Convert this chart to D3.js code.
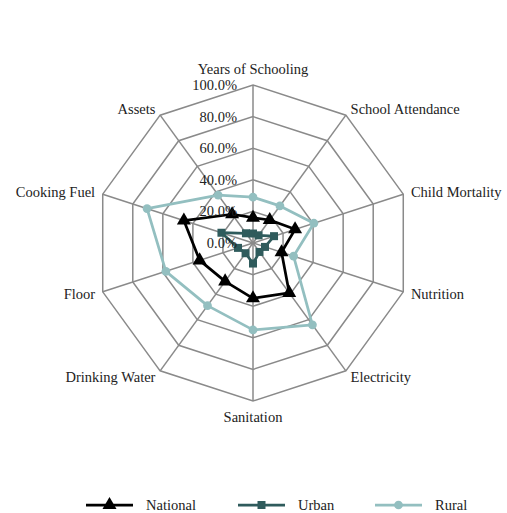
<!DOCTYPE html>
<html>
<head>
<meta charset="utf-8">
<script src="https://cdn.jsdelivr.net/npm/d3@7"></script>
<style>
  body { margin: 0; background: #fff; }
</style>
</head>
<body>
<svg width="507" height="513"></svg>
<script>
const width = 507;
const height = 513;
const svg = d3.select('svg');
const fontFam = "'Liberation Serif', 'DejaVu Serif', serif";

// data
const categories = ["Years of Schooling", "School Attendance", "Child Mortality", "Nutrition",
  "Electricity", "Sanitation", "Drinking Water", "Floor", "Cooking Fuel", "Assets"];
const national = [16, 18, 28, 19, 39, 35, 30, 35.5, 46, 22.5];
const urban = [6, 6, 14, 8, 7, 13, 8, 10, 21, 7.6];
const rural = [29, 29, 40.5, 27, 64, 55, 49, 58, 70.5, 37.5];
const ticks = [0, 20, 40, 60, 80, 100];

const series = [
  {name: "National", values: national, color: "#000000", marker: "triangle"},
  {name: "Urban", values: urban, color: "#2f5b5c", marker: "square"},
  {name: "Rural", values: rural, color: "#93bfc0", marker: "circle"}
];

const cx = 253, cy = 243, R = 158;
const r = d3.scaleLinear().domain([0, 100]).range([0, R]);
const angle = d3.scalePoint().domain(d3.range(categories.length)).range([0, 2 * Math.PI * (categories.length - 1) / categories.length]);

const g = svg.append('g').attr('transform', `translate(${cx},${cy})`);
const px = (i, v) => r(v) * Math.sin(angle(i));
const py = (i, v) => -r(v) * Math.cos(angle(i));

// grid rings
const ringLine = d3.lineRadial().angle((d, i) => angle(i)).radius(d => r(d)).curve(d3.curveLinearClosed);
g.selectAll('.ring')
  .data(ticks.filter(t => t > 0))
  .enter().append('path')
    .attr('class', 'ring')
    .attr('d', t => ringLine(categories.map(() => t)))
    .attr('fill', 'none')
    .attr('stroke', '#8a8a8a')
    .attr('stroke-width', 1.5);

// spokes
g.selectAll('.spoke')
  .data(categories)
  .enter().append('line')
    .attr('x1', 0).attr('y1', 0)
    .attr('x2', (d, i) => px(i, 100))
    .attr('y2', (d, i) => py(i, 100))
    .attr('stroke', '#8a8a8a')
    .attr('stroke-width', 1.5);

// category labels
g.selectAll('.cat')
  .data(categories)
  .enter().append('text')
    .attr('class', 'cat')
    .attr('x', (d, i) => {
      const a = angle(i);
      const extra = Math.abs(Math.sin(a)) < 0.01 ? 16 : 8;
      return (R + extra) * Math.sin(a);
    })
    .attr('y', (d, i) => {
      const a = angle(i);
      const extra = Math.abs(Math.sin(a)) < 0.01 ? 16 : 8;
      return -(R + extra) * Math.cos(a);
    })
    .attr('dy', '0.35em')
    .attr('text-anchor', (d, i) => {
      const s = Math.sin(angle(i));
      return Math.abs(s) < 0.01 ? 'middle' : (s > 0 ? 'start' : 'end');
    })
    .attr('font-family', fontFam)
    .attr('font-size', 14.5)
    .attr('fill', '#222')
    .text(d => d);

// series lines
const seriesLine = d3.lineRadial().angle((d, i) => angle(i)).radius(d => r(d)).curve(d3.curveLinearClosed);
const symFor = m => m === 'triangle' ? d3.symbolTriangle : (m === 'square' ? d3.symbolSquare : d3.symbolCircle);
const sizeFor = m => m === 'triangle' ? 85 : (m === 'square' ? 64 : 60);
series.forEach(s => {
  const sg = g.append('g');
  sg.append('path')
    .attr('d', seriesLine(s.values))
    .attr('fill', 'none')
    .attr('stroke', s.color)
    .attr('stroke-width', 2.75)
    .attr('stroke-linejoin', 'round');
  sg.selectAll('path.m')
    .data(s.values)
    .enter().append('path')
      .attr('class', 'm')
      .attr('d', d3.symbol().type(symFor(s.marker)).size(sizeFor(s.marker)))
      .attr('transform', (d, i) => `translate(${px(i, d)},${py(i, d)})`)
      .attr('fill', s.color);
});

// value axis labels
g.selectAll('.tick')
  .data(ticks)
  .enter().append('text')
    .attr('x', -16)
    .attr('y', t => -r(t))
    .attr('dy', '0.35em')
    .attr('text-anchor', 'end')
    .attr('font-family', fontFam)
    .attr('font-size', 14.5)
    .attr('fill', '#222')
    .text(t => t.toFixed(1) + '%');

// legend
const legend = svg.append('g').attr('transform', 'translate(0,505)');
const legendX = [86, 238, 375];
series.forEach((s, k) => {
  const lg = legend.append('g').attr('transform', `translate(${legendX[k]},0)`);
  lg.append('line').attr('x1', 0).attr('x2', 47).attr('y1', 0).attr('y2', 0)
    .attr('stroke', s.color).attr('stroke-width', 2.75);
  lg.append('path').attr('d', d3.symbol().type(symFor(s.marker)).size(sizeFor(s.marker)))
    .attr('transform', 'translate(23.5,0)').attr('fill', s.color);
  lg.append('text').attr('x', 60).attr('dy', '0.35em')
    .attr('font-family', fontFam)
    .attr('font-size', 14.5)
    .attr('fill', '#222')
    .text(s.name);
});
</script>
</body>
</html>
